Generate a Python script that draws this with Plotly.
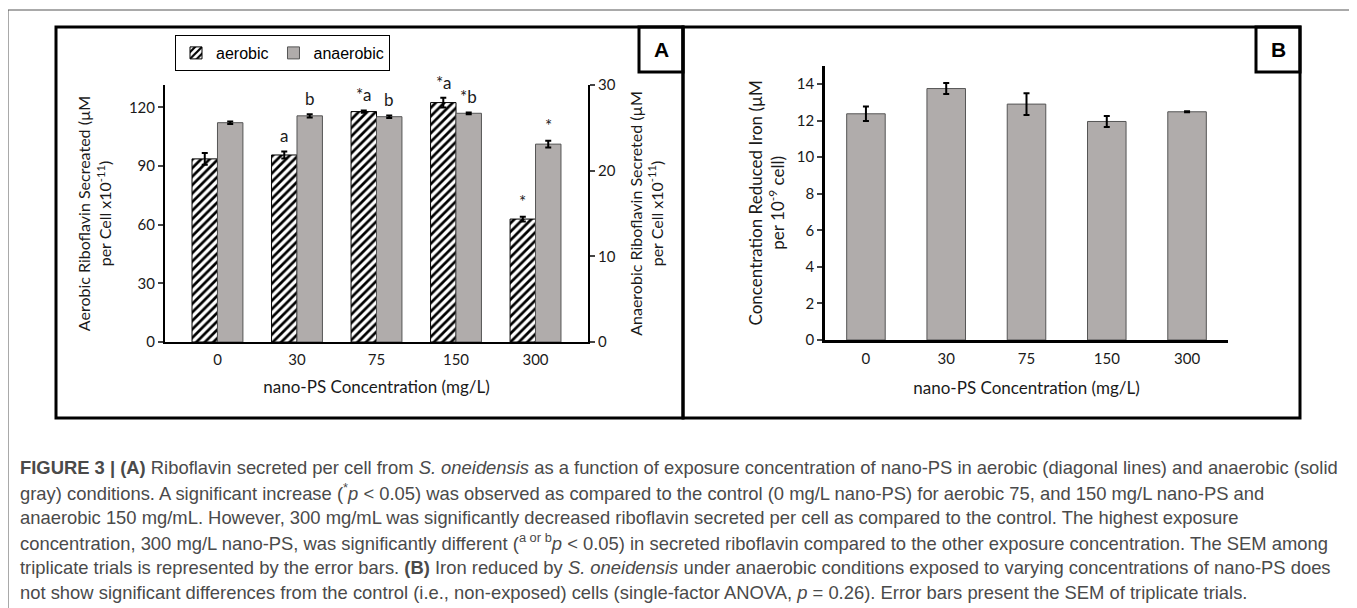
import plotly.graph_objects as go

# ---------------- data ----------------
categories = ["0", "30", "75", "150", "300"]
aerobic = [93.7, 95.7, 117.9, 122.5, 62.9]
aerobic_err = [3.0, 1.8, 0.6, 2.5, 1.2]
anaerobic = [25.6, 26.4, 26.3, 26.7, 23.1]
anaerobic_err = [0.15, 0.2, 0.15, 0.1, 0.4]
iron = [12.37, 13.75, 12.9, 11.95, 12.48]
iron_err = [0.4, 0.3, 0.6, 0.3, 0.03]
aerobic_sig = ["", "a", "*a", "*a", "*"]
anaerobic_sig = ["", "b", "b", "*b", "*"]

caption_lines = [
    "<b>FIGURE 3 | (A)</b> Riboflavin secreted per cell from <i>S. oneidensis</i> as a function of exposure concentration of nano-PS in aerobic (diagonal lines) and anaerobic (solid",
    "gray) conditions. A significant increase (<sup>*</sup><i>p</i> &lt; 0.05) was observed as compared to the control (0 mg/L nano-PS) for aerobic 75, and 150 mg/L nano-PS and",
    "anaerobic 150 mg/mL. However, 300 mg/mL was significantly decreased riboflavin secreted per cell as compared to the control. The highest exposure",
    "concentration, 300 mg/L nano-PS, was significantly different (<sup>a or b</sup><i>p</i> &lt; 0.05) in secreted riboflavin compared to the other exposure concentration. The SEM among",
    "triplicate trials is represented by the error bars. <b>(B)</b> Iron reduced by <i>S. oneidensis</i> under anaerobic conditions exposed to varying concentrations of nano-PS does",
    "not show significant differences from the control (i.e., non-exposed) cells (single-factor ANOVA, <i>p</i> = 0.26). Error bars present the SEM of triplicate trials.",
]

# ---------------- helpers ----------------
W, H = 1357, 608
OFF = 8  # page body margin
def px(x):
    return (x - OFF) / W
def py(y):
    return 1 - (y - OFF) / H

idx = list(range(len(categories)))
AX_FONT = "Lato, Open Sans, sans-serif"
TXT = "#1a1a1a"
GRAY = "#b0acab"

fig = go.Figure()

fig.add_trace(go.Bar(
    x=idx, y=aerobic, name="aerobic", xaxis="x", yaxis="y",
    width=0.32, offset=-0.32,
    marker=dict(color="white", line=dict(color="black", width=1),
                pattern=dict(shape="/", fgcolor="black", bgcolor="white", size=6, solidity=0.45)),
    error_y=dict(type="data", array=aerobic_err, color="black", thickness=2, width=3),
))
fig.add_trace(go.Bar(
    x=idx, y=anaerobic, name="anaerobic", xaxis="x", yaxis="y2",
    width=0.32, offset=0.0,
    marker=dict(color=GRAY, line=dict(color="#555555", width=1)),
    error_y=dict(type="data", array=anaerobic_err, color="black", thickness=2, width=3),
))
fig.add_trace(go.Bar(
    x=idx, y=iron, name="iron", xaxis="x2", yaxis="y3", showlegend=False,
    width=0.48,
    marker=dict(color=GRAY, line=dict(color="#555555", width=1)),
    error_y=dict(type="data", array=iron_err, color="black", thickness=2, width=3),
))

axis_common = dict(showgrid=False, zeroline=False, showline=True, linecolor="black",
                   automargin=False,
                   tickfont=dict(family=AX_FONT, size=15, color=TXT))

fig.update_layout(
    template="none",
    width=W, height=H, margin=dict(l=0, r=0, t=0, b=0, pad=0),
    paper_bgcolor="white", plot_bgcolor="rgba(0,0,0,0)",
    showlegend=True,
    legend=dict(x=px(175), y=py(35), xanchor="left", yanchor="top", orientation="h",
                bordercolor="black", borderwidth=1, bgcolor="white",
                font=dict(family="Liberation Sans, Arial, sans-serif", size=16, color="black"),
                itemwidth=30, tracegroupgap=0),
    xaxis=dict(domain=[px(165), px(588)], range=[-0.66, 4.66], anchor="y",
               tickvals=idx, ticktext=categories, ticks="", linewidth=2,
               ticklabelstandoff=3,
               title=dict(text="nano-PS Concentration (mg/L)", standoff=14,
                          font=dict(family=AX_FONT, size=17, color=TXT)),
               **axis_common),
    yaxis=dict(domain=[py(342), py(85)], range=[0, 131.5], anchor="x",
               tickvals=[0, 30, 60, 90, 120], ticks="outside", ticklen=5, tickwidth=2,
               linewidth=2,
               title=dict(text="Aerobic Riboflavin Secreated (µM<br>per Cell x10<sup>-11</sup>)",
                          standoff=13, font=dict(family=AX_FONT, size=16, color=TXT)),
               **axis_common),
    yaxis2=dict(overlaying="y", side="right", anchor="x", range=[0, 30],
                tickvals=[0, 10, 20, 30], ticks="outside", ticklen=5, tickwidth=2,
                linewidth=2,
                title=dict(text="Anaerobic Riboflavin Secreted (µM<br>per Cell x10<sup>-11</sup>)",
                           standoff=16, font=dict(family=AX_FONT, size=16, color=TXT)),
                **axis_common),
    xaxis2=dict(domain=[px(825), px(1228)], range=[-0.51, 4.51], anchor="y3",
                tickvals=idx, ticktext=categories, ticks="", linewidth=2.5,
                ticklabelstandoff=3,
                title=dict(text="nano-PS Concentration (mg/L)", standoff=17,
                           font=dict(family=AX_FONT, size=17, color=TXT)),
                **axis_common),
    yaxis3=dict(domain=[py(340), py(65.7)], range=[0, 15], anchor="x2",
                tickvals=[0, 2, 4, 6, 8, 10, 12, 14], ticks="outside", ticklen=5, tickwidth=2,
                linewidth=2.5,
                title=dict(text="Concentration Reduced Iron (µM<br>per 10<sup>-9</sup> cell)",
                           standoff=8, font=dict(family=AX_FONT, size=17, color=TXT)),
                **axis_common),
)

# frames
shapes = [
    dict(type="rect", xref="paper", yref="paper", x0=px(8), x1=px(1353), y0=-0.1, y1=py(10),
         line=dict(color="#555555", width=1), layer="below"),
    dict(type="rect", xref="paper", yref="paper", x0=px(56), x1=px(683), y0=py(418), y1=py(27),
         line=dict(color="black", width=3)),
    dict(type="rect", xref="paper", yref="paper", x0=px(683), x1=px(1300), y0=py(418), y1=py(27),
         line=dict(color="black", width=3)),
    dict(type="rect", xref="paper", yref="paper", x0=px(639), x1=px(683), y0=py(72), y1=py(27),
         line=dict(color="black", width=3)),
    dict(type="rect", xref="paper", yref="paper", x0=px(1256), x1=px(1300), y0=py(72), y1=py(27),
         line=dict(color="black", width=3)),
]
fig.update_layout(shapes=shapes)

ann = []
ann.append(dict(text="<b>A</b>", x=px(661), y=py(50), xref="paper", yref="paper", showarrow=False,
                xanchor="center", yanchor="middle",
                font=dict(family="Liberation Sans, Arial", size=21, color="black")))
ann.append(dict(text="<b>B</b>", x=px(1278), y=py(50), xref="paper", yref="paper", showarrow=False,
                xanchor="center", yanchor="middle",
                font=dict(family="Liberation Sans, Arial", size=21, color="black")))

for i in idx:
    if aerobic_sig[i]:
        ann.append(dict(text=aerobic_sig[i], x=i - 0.16, y=aerobic[i] + aerobic_err[i],
                        xref="x", yref="y", yanchor="bottom", yshift=3, showarrow=False,
                        font=dict(family=AX_FONT, size=17, color=TXT)))
    if anaerobic_sig[i]:
        ann.append(dict(text=anaerobic_sig[i], x=i + 0.16, y=anaerobic[i] + anaerobic_err[i],
                        xref="x", yref="y2", yanchor="bottom", yshift=3, showarrow=False,
                        font=dict(family=AX_FONT, size=17, color=TXT)))

cap_y = [467, 492, 517, 542, 567, 592]
for line, yy in zip(caption_lines, cap_y):
    ann.append(dict(text=line, x=px(18), y=py(yy), xref="paper", yref="paper",
                    xanchor="left", yanchor="middle", showarrow=False, align="left",
                    font=dict(family="Liberation Sans, Arial, sans-serif", size=18.4, color="#4a4a4a")))

fig.update_layout(annotations=ann)

fig.write_html("out.html")
